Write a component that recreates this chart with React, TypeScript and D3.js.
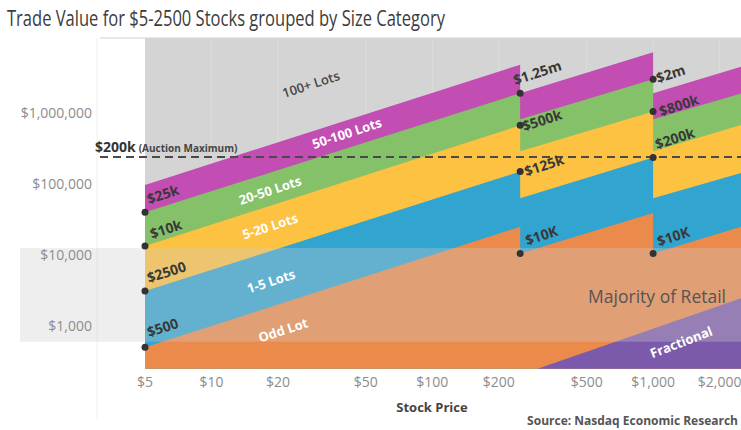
import React from "react";
import * as d3 from "d3";

const W = 741;
const H = 430;

// Stock price vertices (USD) of the size boundaries; tick-size changes at $250 and $1,000
const prices = [5, 250, 250, 1000, 1000, 2500];
// Upper trade-value boundary (USD) of each size category at those prices
const oddLotTop = [500, 25000, 10500, 39000, 10500, 25000];
const oneToFiveTop = [3100, 150000, 63000, 236000, 63000, 143000];
const fiveToTwentyTop = [13400, 670000, 290000, 1050000, 290000, 678000];
const twentyToFiftyTop = [40000, 1900000, 820000, 3000000, 820000, 1890000];
const fiftyToHundredTop = [97000, 4800000, 1900000, 7200000, 1900000, 4490000];

// Fractional region upper edge
const fractionalPrices = [300, 2500];
const fractionalValues = [250, 2450];

// "Majority of Retail" band (trade value range)
const retailBand = [600, 12500];
// Auction maximum reference line
const auctionMax = 240000;

// Axes
const xTicks = [5, 10, 20, 50, 100, 200, 500, 1000, 2000];
const yTicks = [1000, 10000, 100000, 1000000];
const xDomain = [5, 2500];
const yDomain = [250, 11.4e6];

// Category labels
const categories = ["100+ Lots", "50-100 Lots", "20-50 Lots", "5-20 Lots", "1-5 Lots", "Odd Lot"];
const categoryLabelPrices = [28.2, 41, 18.4, 18.4, 18.6, 21.1];
const categoryLabelValues = [2560000, 523000, 82000, 25600, 4300, 880];

// Annotated points
const dotPrices = [5, 5, 5, 5, 250, 250, 250, 250, 1000, 1000, 1000, 1000];
const dotValues = [500, 3100, 13400, 40000, 1900000, 670000, 150000, 10500, 3000000, 1050000, 236000, 10500];
const dotLabels = ["$500", "$2500", "$10k", "$25k", "$1.25m", "$500k", "$125k", "$10K", "$2m", "$800k", "$200k", "$10K"];
const dotLabelDx = [4, 4, 7, 4, -5, 4, 6, 7, 5, 8, 4, 6];
const dotLabelDy = [-10, -8, -7, -8, -8, 6, 5, -8, 4, 5, -8, -7];

const FONT = "'Open Sans', 'DejaVu Sans', sans-serif";

export default function App() {
  const x = d3.scaleLog().domain(xDomain).range([145, 741]);
  const y = d3.scaleLog().domain(yDomain).range([368.7, 38]);
  const yBottom = y(yDomain[0]);
  const yTop = y(yDomain[1]);
  const xLeft = x(xDomain[0]);
  const xRight = x(xDomain[1]);

  const areaFor = (vals: number[], ps: number[] = prices) =>
    d3
      .area<number>()
      .x((_, i) => x(ps[i]))
      .y0(yBottom)
      .y1((d) => y(d))(vals) as string;

  const bands = [
    { vals: fiftyToHundredTop, color: "#c24db3" },
    { vals: twentyToFiftyTop, color: "#85c169" },
    { vals: fiveToTwentyTop, color: "#fdc241" },
    { vals: oneToFiveTop, color: "#31a5cf" },
    { vals: oddLotTop, color: "#ea8a4b" },
  ];

  const fmt = d3.format("$,.0f");
  const rot = -18;

  return (
    <svg
      width={W}
      height={H}
      style={{ position: "absolute", left: 0, top: 0, background: "#fff" }}
      fontFamily={FONT}
    >
      <rect x={0} y={0} width={W} height={H} fill="#ffffff" />
      {/* title */}
      <text
        x={7}
        y={26}
        fontSize={21}
        fill="#3c3c3c"
        textLength={438}
        lengthAdjust="spacingAndGlyphs"
        fontFamily="'Liberation Sans Narrow', 'Open Sans', sans-serif"
      >
        Trade Value for $5-2500 Stocks grouped by Size Category
      </text>

      {/* pane divider */}
      <line x1={97} x2={97} y1={yTop} y2={420} stroke="#f0f0f0" strokeWidth={1} />
      <line x1={100} x2={xRight} y1={yTop} y2={yTop} stroke="#d0d0d0" strokeWidth={1} />

      {/* 100+ lots background */}
      <rect x={xLeft} y={yTop} width={xRight - xLeft} height={yBottom - yTop} fill="#d4d4d4" />
      {xTicks.slice(1).map((t) => (
        <line key={t} x1={x(t)} x2={x(t)} y1={yTop} y2={yBottom} stroke="#dcdcdc" strokeWidth={1} />
      ))}

      {bands.map((b, i) => (
        <path key={i} d={areaFor(b.vals)} fill={b.color} />
      ))}

      {/* fractional */}
      <path d={areaFor(fractionalValues, fractionalPrices)} fill="#7c5aab" />

      {/* majority of retail band overlay */}
      <rect
        x={20}
        y={y(retailBand[1])}
        width={xRight - 20}
        height={y(retailBand[0]) - y(retailBand[1])}
        fill="#cccccc"
        fillOpacity={0.33}
      />

      {/* auction maximum */}
      <line
        x1={100}
        x2={xRight}
        y1={y(auctionMax)}
        y2={y(auctionMax)}
        stroke="#4a4a4a"
        strokeWidth={2}
        strokeDasharray="8 5"
      />
      <text x={95} y={y(auctionMax) - 5} fill="#333" fontWeight={700} fontSize={14}>
        $200k
        <tspan dx={3} fontSize={10} fill="#444">
          (Auction Maximum)
        </tspan>
      </text>

      {/* category labels */}
      {categories.map((c, i) => (
        <text
          key={c}
          transform={`translate(${x(categoryLabelPrices[i])},${y(categoryLabelValues[i])}) rotate(${rot})`}
          textAnchor="middle"
          dominantBaseline="central"
          fontSize={13}
          fontWeight={i === 0 ? 600 : 700}
          fill={i === 0 ? "#444" : "#ffffff"}
        >
          {c}
        </text>
      ))}
      <text
        transform={`translate(${x(1339)},${y(596)}) rotate(-21)`}
        textAnchor="middle"
        dominantBaseline="central"
        fontSize={13}
        fontWeight={700}
        fill="#ffffff"
      >
        Fractional
      </text>
      <text x={x(1042)} y={y(2130)} textAnchor="middle" fontSize={17.5} fill="#555">
        Majority of Retail
      </text>

      {/* annotated dots */}
      {dotPrices.map((p, i) => (
        <g key={i}>
          <circle cx={x(p)} cy={y(dotValues[i])} r={3.5} fill="#333" />
          <text
            transform={`translate(${x(p) + dotLabelDx[i]},${y(dotValues[i]) + dotLabelDy[i]}) rotate(${rot})`}
            fontSize={14}
            fontWeight={700}
            fill="#383838"
          >
            {dotLabels[i]}
          </text>
        </g>
      ))}

      {/* y axis */}
      {yTicks.map((t) => (
        <text key={t} x={92} y={y(t)} dy="0.35em" textAnchor="end" fontSize={14} fill="#8c8c8c">
          {fmt(t)}
        </text>
      ))}

      {/* x axis */}
      {xTicks.map((t) => (
        <text key={t} x={x(t)} y={387} textAnchor="middle" fontSize={14} fill="#8c8c8c">
          {fmt(t)}
        </text>
      ))}
      <text x={432} y={411.5} textAnchor="middle" fontSize={13} fontWeight={700} fill="#444">
        Stock Price
      </text>
      <text x={738} y={425} textAnchor="end" fontSize={12} fontWeight={700} fill="#555">
        Source: Nasdaq Economic Research
      </text>
    </svg>
  );
}
